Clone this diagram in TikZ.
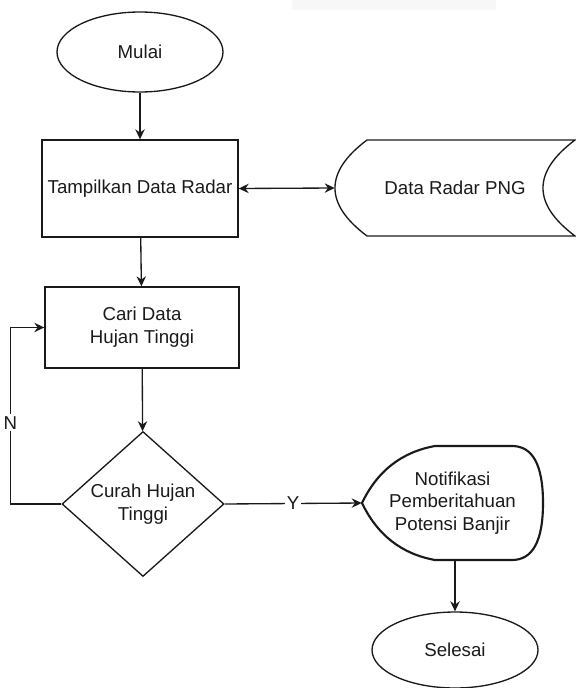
\documentclass[tikz,border=0pt]{standalone}
\usepackage{fontspec}
\setmainfont{Liberation Sans}
\usetikzlibrary{shapes.geometric,arrows.meta}
\definecolor{ink}{HTML}{1A1A1A}
\definecolor{band}{HTML}{F7F7F7}
\begin{document}
\begin{tikzpicture}[x=0.75pt,y=-0.75pt,
  every node/.style={font=\fontsize{14pt}{17pt}\selectfont, text=ink, align=center, inner sep=0pt},
  line/.style={draw=ink, line width=1pt},
  tip/.style={Stealth[length=7.5pt,width=7pt]},
  arr/.style={line, -{Stealth[length=7.5pt,width=7pt]}},
  darr/.style={line, {Stealth[length=7.5pt,width=7pt]}-{Stealth[length=7.5pt,width=7pt]}},
  term/.style={ellipse, line, minimum width=124.5pt, minimum height=60pt},
  proc/.style={rectangle, line},
  lbl/.style={fill=white, inner sep=1.5pt}]
  \useasboundingbox (0,0) rectangle (575,688);
  \fill[band] (292,0) rectangle (496,10);

  % terminals and process boxes
  \node[term] (start) at (140,52) {Mulai};
  \node[proc, minimum width=147pt, minimum height=72.75pt] (show) at (140,188.5) {Tampilkan Data Radar};
  \node[proc, minimum width=145.5pt, minimum height=60.75pt] (search) at (142,327.5) {Cari Data\\Hujan Tinggi};
  \node[diamond, line, shape aspect=1.117, minimum width=121.5pt, minimum height=108.75pt] (check) at (143,504) {Curah Hujan\\Tinggi};
  \node[term, minimum height=57pt] (stop) at (455,650) {Selesai};

  % stored data shape
  \node[minimum width=180pt, minimum height=72pt] (store) at (455,188) {Data Radar PNG};
  \draw[line] (367,140) -- (575,140) .. controls (532.3,172) and (532.3,204) .. (575,236)
    -- (367,236) .. controls (324.3,204) and (324.3,172) .. (367,140) -- cycle;

  % display shape
  \node[minimum width=135.75pt, minimum height=85.5pt] (notif) at (452.5,503) {Notifikasi\\Pemberitahuan\\Potensi Banjir};
  \draw[draw=ink, line width=1.6pt, line join=round] (362,503) .. controls (377.3,471) and (401.7,452) .. (435,446) -- (512,446)
    .. controls (532.7,446) and (543,465) .. (543,503) .. controls (543,541) and (532.7,560) .. (512,560)
    -- (435,560) .. controls (401.7,554) and (377.3,535) .. (362,503) -- cycle;

  % connectors
  \draw[arr] (start) -- (show);
  \draw[darr] (show.east) -- (store.west);
  \draw[arr] (show) -- (search);
  \draw[arr] (search) -- (check);
  \draw[arr] (check.west) -- ++(-51,0) |- node[lbl, pos=0.23] {N} (search.west);
  \draw[arr] (check.east) -- node[lbl] {Y} (notif.west);
  \draw[arr] (455,560) -- (stop);
\end{tikzpicture}
\end{document}
